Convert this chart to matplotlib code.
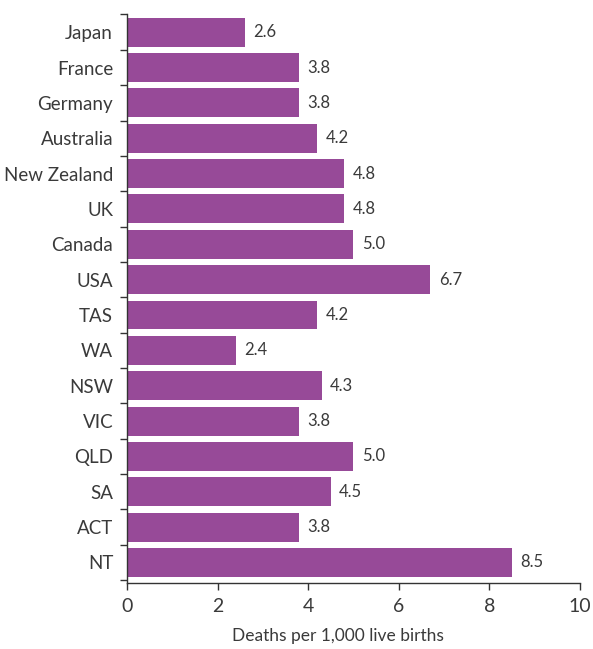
import matplotlib
matplotlib.use("Agg")
import matplotlib.pyplot as plt
from matplotlib.ticker import FixedLocator

categories = ["Japan", "France", "Germany", "Australia", "New Zealand", "UK",
              "Canada", "USA", "TAS", "WA", "NSW", "VIC", "QLD", "SA", "ACT", "NT"]
values = [2.6, 3.8, 3.8, 4.2, 4.8, 4.8, 5.0, 6.7, 4.2, 2.4, 4.3, 3.8, 5.0, 4.5, 3.8, 8.5]
x_ticks = [0, 2, 4, 6, 8, 10]
x_label = "Deaths per 1,000 live births"

plt.rcParams["font.family"] = ["Lato", "DejaVu Sans"]
text_color = "#3a3a3a"
bar_color = "#974A98"
axis_color = "#333333"

fig = plt.figure(figsize=(5.93, 6.49), dpi=100)
ax = fig.add_axes([0.2142, 0.1017, 0.7638, 0.876])

pos = list(range(len(categories)))
ax.barh(pos, values, height=0.82, color=bar_color)
for y, v in zip(pos, values):
    ax.annotate(f"{v:.1f}", (v, y), xytext=(6, 0), textcoords="offset points",
                va="center", ha="left", fontsize=12, color=text_color)

ax.set_ylim(len(categories) - 0.5 + 0.08, -0.5)
ax.set_xlim(0, 10)
ax.set_xticks(x_ticks)
ax.set_yticks(pos)
ax.set_yticklabels(categories)
ax.yaxis.set_minor_locator(FixedLocator([p + 0.5 for p in [-1] + pos]))
ax.tick_params(axis="y", which="major", length=0, pad=10, labelsize=13.5, labelcolor=text_color)
ax.tick_params(axis="y", which="minor", length=5, width=1, color=axis_color, direction="out")
ax.tick_params(axis="x", which="major", length=5, width=1, color=axis_color,
               labelsize=14, labelcolor=text_color, pad=6)
ax.set_xlabel(x_label, fontsize=12.5, color=text_color)
ax.xaxis.set_label_coords(0.466, -0.079)

for side in ("top", "right"):
    ax.spines[side].set_visible(False)
for side in ("left", "bottom"):
    ax.spines[side].set_color(axis_color)
    ax.spines[side].set_linewidth(1)

fig.savefig("out.png", dpi=100)
